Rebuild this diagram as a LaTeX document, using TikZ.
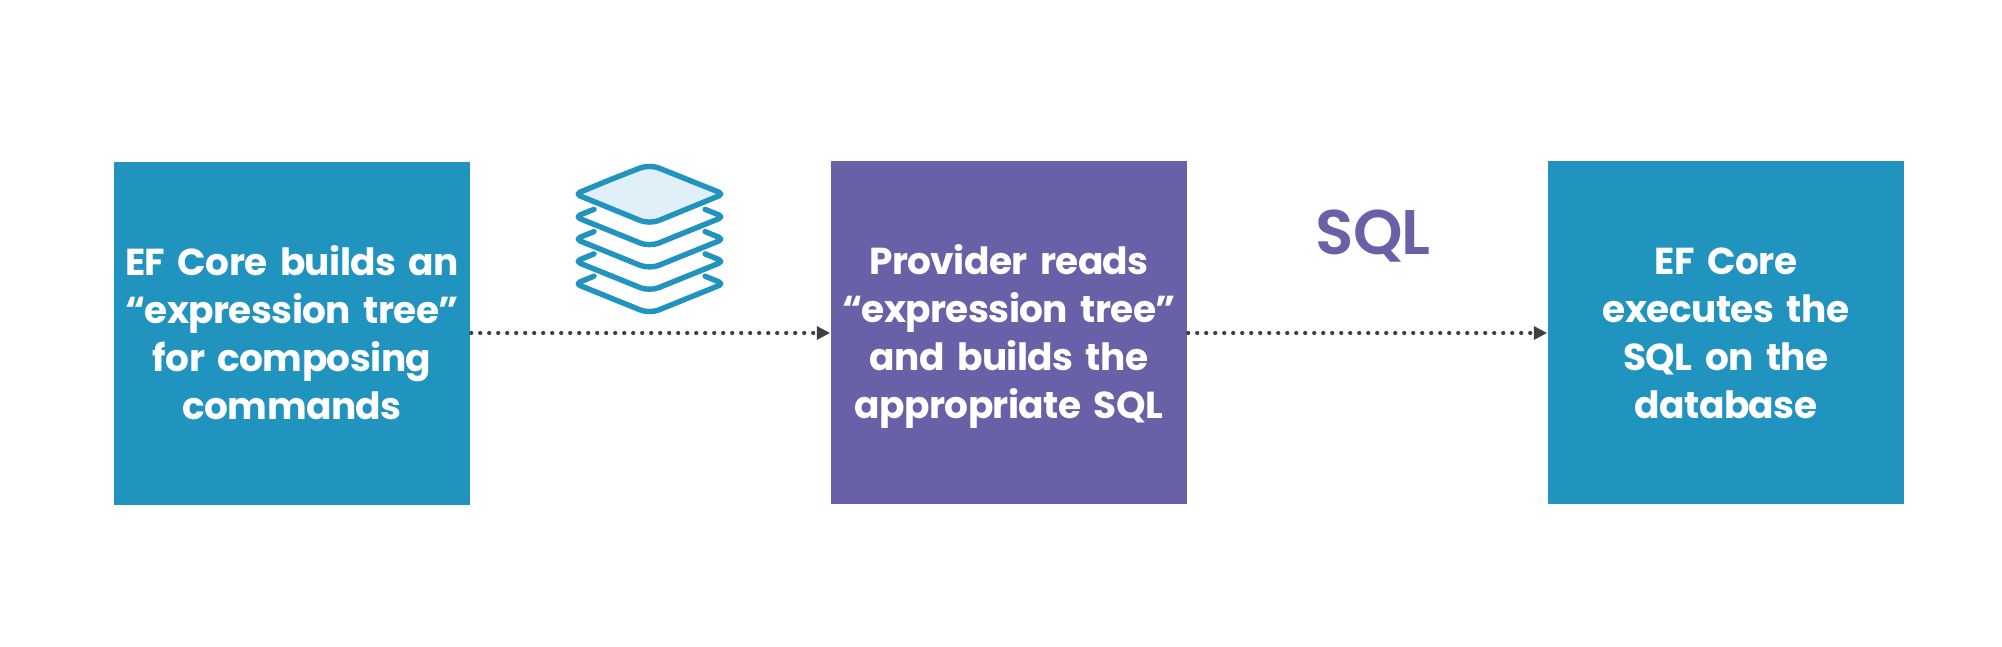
\documentclass[tikz,border=0pt]{standalone}
\usepackage{fontspec}
\setmainfont{Poppins}[BoldFont={Poppins Bold},LetterSpace=-1.6]
\newfontfamily\sqlfont{Poppins SemiBold}[LetterSpace=-1.6]
\usetikzlibrary{arrows.meta}
\definecolor{tealbox}{HTML}{2193BF}
\definecolor{purplebox}{HTML}{6961A8}
\definecolor{iconfill}{HTML}{DFF0F8}
\definecolor{linedark}{HTML}{3F3F3F}
\newcommand{\topstr}{\rule{0pt}{42.4pt}}
\newcommand{\botstr}{\rule[-14.5pt]{0pt}{14.5pt}}
\tikzset{
  box/.style={draw=none,minimum width=356pt,minimum height=343pt,inner sep=0pt,text=white,align=center,font=\fontsize{37.5}{48.3}\selectfont\bfseries,text width=356pt},
  flow/.style={draw=linedark,line width=4.2pt,line cap=round,dash pattern=on 0pt off 9pt,shorten >=16pt,shorten <=1pt},
  tipshape/.style={fill=linedark,draw=none},
  layer/.style={draw=tealbox,line width=5.4pt,line join=round,line cap=round},
}
\begin{document}
\begin{tikzpicture}[x=1pt,y=-1pt]
\useasboundingbox (0,0) rectangle (2002,646);
\fill[white] (0,0) rectangle (2002,646);
\node[box,fill=tealbox] (a) at (292,333.5) {\topstr EF Core builds an\\“expression tree”\\for composing\\commands\botstr};
\node[box,fill=purplebox] (b) at (1009,332.5) {\topstr Provider reads\\“expression tree”\\and builds the\\appropriate SQL\botstr};
\node[box,fill=tealbox] (c) at (1726,332.5) {\topstr EF Core\\executes the\\SQL on the\\database\botstr};
\node[text=purplebox,font=\fontsize{63}{66}\selectfont\sqlfont,inner sep=0pt] (sql) at (1373,236.5) {SQL};
% connectors
\coordinate (a1) at (a.east |- 0,333);
\coordinate (b0) at (b.west |- 0,333);
\coordinate (b1) at (b.east |- 0,333);
\coordinate (c0) at (c.west |- 0,333);
\draw[flow] (a1) -- (b0);
\draw[flow] (b1) -- (c0);
\fill[tipshape] (b0) ++(-1,0) -- ++(-13,-7) -- ++(0,14) -- cycle;
\fill[tipshape] (c0) ++(-1,0) -- ++(-13,-7) -- ++(0,14) -- cycle;
% icon
\foreach \d in {22.3,44.6,66.9,89.2}{
  \draw[layer] (594,{194.5+\d-7.5}) [rounded corners=5pt] -- (575.5,{194.5+\d}) [rounded corners=10pt] -- (649.5,{224.5+\d}) [rounded corners=5pt] -- (723.5,{194.5+\d}) [sharp corners] -- (705,{194.5+\d-7.5});
}
\draw[layer,fill=iconfill] (612,179) [rounded corners=5pt] -- (575.5,194) [rounded corners=10pt] -- (649.5,224.3) [rounded corners=5pt] -- (723.5,194) [rounded corners=10pt] -- (649.5,164.3) [sharp corners] -- cycle;
\end{tikzpicture}
\end{document}
